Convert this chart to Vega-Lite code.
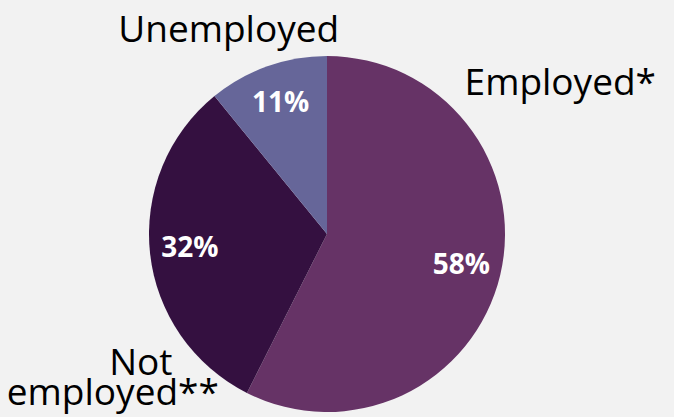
{
  "$schema": "https://vega.github.io/schema/vega-lite/v6.json",
  "width": 356,
  "height": 356,
  "autosize": {"type": "none"},
  "padding": {"left": 149, "top": 56, "right": 169, "bottom": 5},
  "background": "#f2f2f2",
  "config": {"view": {"stroke": null}, "font": "Open Sans"},
  "data": {
    "values": [
      {"cat": "Employed", "value": 58, "ord": 1, "pct": "58%"},
      {"cat": "Not employed", "value": 32, "ord": 2, "pct": "32%"},
      {"cat": "Unemployed", "value": 11, "ord": 3, "pct": "11%"}
    ]
  },
  "encoding": {
    "theta": {"field": "value", "type": "quantitative", "stack": true},
    "order": {"field": "ord", "type": "quantitative"},
    "detail": {"field": "cat", "type": "nominal"}
  },
  "layer": [
    {
      "mark": {"type": "arc", "outerRadius": 178},
      "encoding": {
        "color": {
          "field": "cat",
          "type": "nominal",
          "scale": {"domain": ["Employed", "Not employed", "Unemployed"], "range": ["#663366", "#341040", "#666699"]},
          "legend": null
        }
      }
    },
    {
      "mark": {"type": "text", "radius": 138, "fontSize": 28, "fontWeight": "bold", "fill": "white", "baseline": "middle", "align": "center"},
      "encoding": {"text": {"field": "pct", "type": "nominal"}}
    },
    {
      "mark": {"type": "text", "radius": 138, "fontSize": 37, "fill": "black", "baseline": "alphabetic", "align": "center", "dx": 99, "dy": -171},
      "encoding": {"text": {"condition": {"test": "datum.cat === 'Employed'", "value": "Employed*"}, "value": ""}}
    },
    {
      "mark": {"type": "text", "radius": 138, "fontSize": 37, "fill": "black", "baseline": "alphabetic", "align": "center", "dx": -52, "dy": -62},
      "encoding": {"text": {"condition": {"test": "datum.cat === 'Unemployed'", "value": "Unemployed"}, "value": ""}}
    },
    {
      "mark": {"type": "text", "radius": 138, "fontSize": 37, "fill": "black", "baseline": "alphabetic", "align": "center", "dx": -49, "dy": 126},
      "encoding": {"text": {"condition": {"test": "datum.cat === 'Not employed'", "value": "Not"}, "value": ""}}
    },
    {
      "mark": {"type": "text", "radius": 138, "fontSize": 37, "fill": "black", "baseline": "alphabetic", "align": "center", "dx": -77, "dy": 156},
      "encoding": {"text": {"condition": {"test": "datum.cat === 'Not employed'", "value": "employed**"}, "value": ""}}
    }
  ]
}
